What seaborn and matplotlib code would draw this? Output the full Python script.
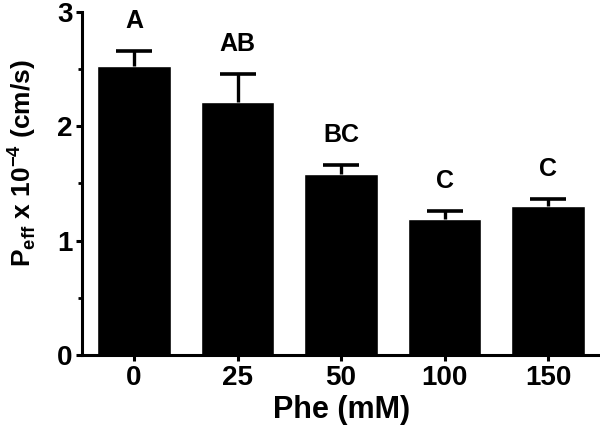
import matplotlib
matplotlib.use("Agg")
import matplotlib.pyplot as plt
import seaborn as sns
import pandas as pd
import numpy as np
from matplotlib.ticker import MultipleLocator

# Data
phe_levels = ["0", "25", "50", "100", "150"]
peff_mean = [2.53, 2.21, 1.58, 1.19, 1.30]
peff_sem = [0.13, 0.25, 0.08, 0.07, 0.06]
group_letters = ["A", "AB", "BC", "C", "C"]

df = pd.DataFrame({"Phe": phe_levels, "Peff": peff_mean})

sns.set_style("ticks")
plt.rcParams["font.family"] = ["Liberation Sans", "DejaVu Sans"]
plt.rcParams["font.weight"] = "bold"
plt.rcParams["text.color"] = "black"
plt.rcParams["axes.labelcolor"] = "black"
plt.rcParams["xtick.color"] = "black"
plt.rcParams["ytick.color"] = "black"
plt.rcParams["axes.edgecolor"] = "black"
plt.rcParams["mathtext.fontset"] = "custom"
plt.rcParams["mathtext.rm"] = "Liberation Sans:bold"
plt.rcParams["mathtext.bf"] = "Liberation Sans:bold"

fig = plt.figure(figsize=(6, 4.41), dpi=100)
ax = fig.add_axes([0.137, 0.195, 0.863, 0.778])

sns.barplot(data=df, x="Phe", y="Peff", color="black", width=0.71,
            errorbar=None, saturation=1, ax=ax)

xpos = np.arange(len(phe_levels))
eb = ax.errorbar(xpos, peff_mean, yerr=[np.zeros(len(peff_sem)), peff_sem],
                 fmt="none", ecolor="black", elinewidth=2.4, capsize=13,
                 capthick=2.6, zorder=1)
# only the upper cap, like the original
eb[1][0].set_visible(False)

# significance letters above each bar
for x, m, s, lab in zip(xpos, peff_mean, peff_sem, group_letters):
    ax.annotate(lab, (x, m + s), xytext=(0, 13), textcoords="offset points",
                ha="center", va="bottom", fontsize=18, fontweight="bold")

ax.set_xlim(-0.5, 4.5)
ax.set_ylim(0, 3)
ax.yaxis.set_major_locator(MultipleLocator(1))
ax.yaxis.set_minor_locator(MultipleLocator(0.5))

for side in ["top", "right"]:
    ax.spines[side].set_visible(False)
for side in ["left", "bottom"]:
    ax.spines[side].set_linewidth(2.2)

ax.tick_params(axis="both", which="major", length=4, width=2.2,
               labelsize=20, pad=3)
ax.tick_params(axis="y", which="minor", length=3, width=2.0)

ax.set_xlabel("Phe (mM)", fontsize=22, fontweight="bold", labelpad=3)
ax.set_ylabel(r"P$_{\mathregular{eff}}$ x 10$^{\mathregular{-4}}$ (cm/s)",
              fontsize=19, fontweight="bold")
ax.yaxis.set_label_coords(-0.085, 0.56)

fig.savefig("out.png", dpi=100)
